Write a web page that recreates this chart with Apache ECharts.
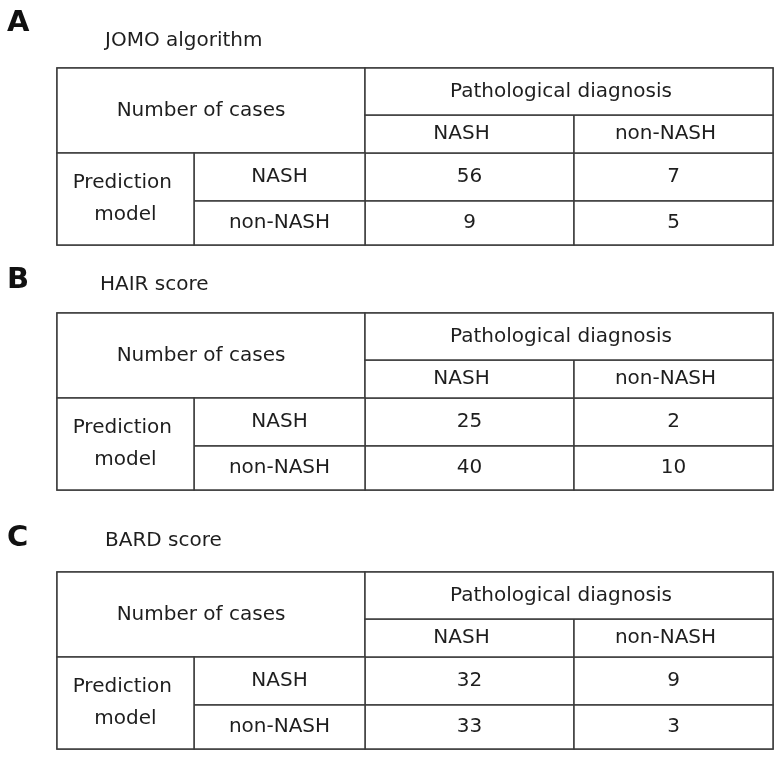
<!DOCTYPE html>
<html>
<head>
<meta charset="utf-8">
<script src="https://cdn.jsdelivr.net/npm/echarts@6/dist/echarts.min.js"></script>
<style>html,body{margin:0;padding:0;background:#fff;}#main{width:784px;height:757px;}</style>
</head>
<body>
<div id="main"></div>
<script>
// ---- data ----
const panelLetters = ['A', 'B', 'C'];
const panelTitles = ['JOMO algorithm', 'HAIR score', 'BARD score'];
const cornerLabel = 'Number of cases';
const colGroupLabel = 'Pathological diagnosis';
const colLabels = ['NASH', 'non-NASH'];
const rowGroupLabel = 'Prediction model';
const rowLabels = ['NASH', 'non-NASH'];
// rows: predicted NASH, predicted non-NASH; cols: pathological NASH, non-NASH
const jomoValues = [[56, 7], [9, 5]];
const hairValues = [[25, 2], [40, 10]];
const bardValues = [[32, 9], [33, 3]];
const panelValues = [jomoValues, hairValues, bardValues];

// ---- layout ----
const tableTops = [68, 313, 572];
const letterTops = [9, 266, 524];
const titleTops = [31, 275, 531];
const titleLefts = [105, 100, 105];
const colSizes = [209, 199];
const rowSizes = [48, 44];
const FONT = '"DejaVu Sans", Verdana, sans-serif';
const BORDER = '#3c3c3c';
const TEXT = '#1e1e1e';
const lineStyle = { color: BORDER, width: 1.5 };
const cellStyle = { borderColor: BORDER, borderWidth: 1.5, color: '#fff' };

const matrices = panelValues.map((vals, i) => {
  const bodyData = [];
  vals.forEach((row, r) => row.forEach((v, c) => bodyData.push({ coord: [c, r], value: String(v) })));
  return {
    left: 57, top: tableTops[i], width: 716, height: 177,
    x: {
      data: [{ value: colGroupLabel, children: colLabels.map((s, k) => ({ value: s, size: colSizes[k] })) }],
      levels: [{ levelSize: 47 }, { levelSize: 38 }],
      label: { fontFamily: FONT, fontSize: 20, color: TEXT, padding: [0, 16, 0, 0] },
      itemStyle: cellStyle,
      dividerLineStyle: lineStyle
    },
    y: {
      data: [{ value: rowGroupLabel, children: rowLabels.map((s, k) => ({ value: s, size: rowSizes[k] })) }],
      levels: [{ levelSize: 137 }, { levelSize: 171 }],
      label: { fontFamily: FONT, fontSize: 20, color: TEXT, lineHeight: 32 },
      itemStyle: cellStyle,
      dividerLineStyle: lineStyle
    },
    corner: {
      data: [{ coord: [[-2, -1], [-2, -1]], mergeCells: true, value: cornerLabel }],
      label: { fontFamily: FONT, fontSize: 20, color: TEXT, padding: [0, 20, 0, 0] },
      itemStyle: cellStyle
    },
    body: {
      data: bodyData,
      label: { fontFamily: FONT, fontSize: 20, color: TEXT, padding: [4, 0, 0, 0] },
      itemStyle: cellStyle
    },
    borderZ2: 10,
    backgroundStyle: { borderColor: BORDER, borderWidth: 1.5 }
  };
});

const titles = [];
panelLetters.forEach((L, i) => {
  titles.push({ text: L, left: 7, top: letterTops[i], padding: 0,
    textStyle: { fontFamily: FONT, fontWeight: 'bold', fontSize: 29, color: '#111' } });
  titles.push({ text: panelTitles[i], left: titleLefts[i], top: titleTops[i], padding: 0,
    textStyle: { fontFamily: FONT, fontWeight: 'normal', fontSize: 20, color: TEXT } });
});

const chart = echarts.init(document.getElementById('main'), null, { renderer: 'canvas' });
chart.setOption({
  backgroundColor: '#fff',
  animation: false,
  title: titles,
  matrix: matrices
});
</script>
</body>
</html>
